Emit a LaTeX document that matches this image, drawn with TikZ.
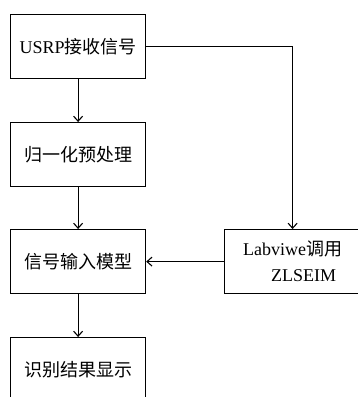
\documentclass[tikz,border=0pt]{standalone}
\usepackage{fontspec}
\setmainfont{Liberation Serif}
\newfontfamily\cjk{Noto Sans CJK SC}
\usetikzlibrary{arrows.meta}
\begin{document}
\begin{tikzpicture}[x=1pt,y=-1pt,
  box/.style={draw,line width=1.2pt,minimum width=135pt,minimum height=64pt,inner sep=0pt,font=\fontsize{18}{20}\selectfont,anchor=north west},
  conn/.style={line width=1.1pt,-{Straight Barb[length=5pt,width=9pt]}}]
\useasboundingbox (0,0) rectangle (358,397);
\node[box] (a) at (10,14) {USRP{\cjk 接收信号}};
\node[box] (b) at (10,122) {\cjk 归一化预处理};
\node[box] (c) at (10,229) {\cjk 信号输入模型};
\node[box] (d) at (10,337) {\cjk 识别结果显示};
\node[box,minimum width=136pt,align=left] (e) at (224,229) {Labviwe{\cjk 调用}\\[6pt]\hspace{28pt}ZLSEIM};
\draw[conn] (a) -- (b);
\draw[conn] (b) -- (c);
\draw[conn] (c) -- (d);
\draw[conn] (a.east) -| (e.north);
\draw[conn] (e) -- (c);
\end{tikzpicture}
\end{document}
